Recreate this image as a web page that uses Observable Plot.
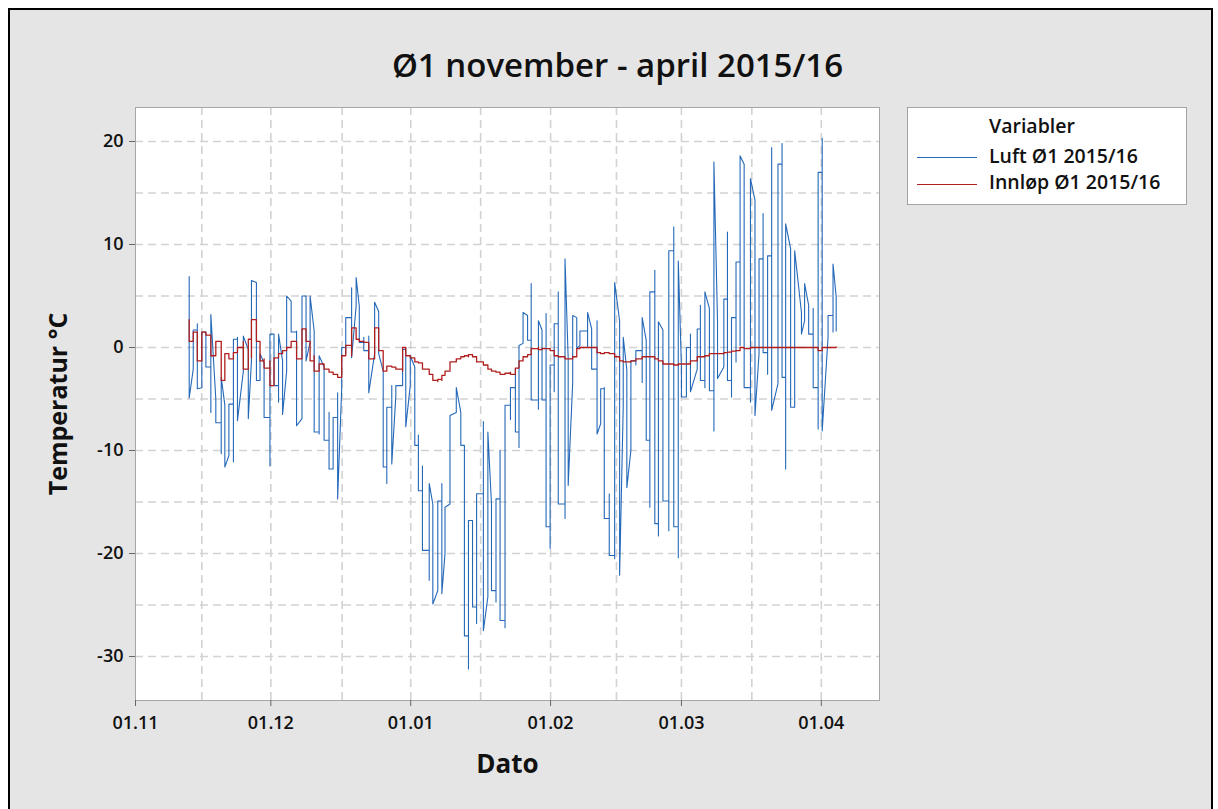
<!DOCTYPE html>
<html>
<head>
<meta charset="utf-8">
<script src="https://cdn.jsdelivr.net/npm/d3@7"></script>
<script src="https://cdn.jsdelivr.net/npm/@observablehq/plot@0.6"></script>
<style>
  body { margin: 0; background: #fff; }
  #wrap { position: relative; width: 1218px; height: 809px; overflow: hidden; background: #fff; font-family: 'Open Sans', sans-serif; }
  #panel { position: absolute; left: 8px; top: 8px; width: 1205px; height: 900px; background: #e5e5e5; border: 2px solid #000; box-sizing: border-box; }
  #chart { position: absolute; left: 0; top: 0; }
  #legend { position: absolute; left: 907px; top: 107px; width: 280px; height: 98px; background: #fff; border: 1px solid #a3a3a3; box-sizing: border-box; }
  .lg { position: absolute; left: 81px; font-size: 19.5px; font-weight: 600; line-height: 24px; color: #111; white-space: nowrap; }
  .sw { position: absolute; left: 9px; width: 60px; height: 1.4px; }
</style>
</head>
<body>
<div id="wrap">
  <div id="panel"></div>
  <div id="chart"></div>
  <div id="legend"></div>
</div>
<script>
// ---- data (days since 1 Nov 2015; temperatures in °C) ----
// Luft Ø1: for each logged day the range of the values drawn at that date
const luftDay = [11.9,12.8,13.7,14.7,15.6,16.7,17.8,19.0,19.8,20.7,
  21.7,22.6,23.9,25.0,25.7,26.8,27.6,28.5,29.8,30.7,
  31.7,32.6,33.5,34.5,35.7,36.9,37.8,38.7,39.6,40.7,
  41.8,42.9,43.8,44.8,45.7,46.6,47.9,48.9,49.6,50.6,
  51.7,53.0,53.9,54.9,55.7,56.8,57.7,59.2,59.9,60.9,
  61.9,62.7,63.6,65.1,65.9,67.0,67.9,68.6,69.7,71.1,
  72.1,72.9,73.8,74.7,75.6,77.1,78.1,78.9,79.9,80.8,
  81.9,83.1,84.2,85.0,85.9,86.9,87.7,89.3,90.1,91.0,
  91.9,92.8,93.7,95.2,95.9,96.9,97.8,98.5,100.2,101.1,
  102.3,103.1,103.9,105.0,106.2,107.3,108.1,108.9,109.8,110.9,
  112.3,113.2,114.0,115.1,115.9,116.9,118.2,119.3,120.3,121.0,
  122.1,123.0,124.5,125.2,126.2,127.2,128.2,129.0,130.4,131.2,
  132.1,133.1,134.0,134.9,136.3,137.3,138.2,139.1,140.1,141.0,
  142.4,143.3,144.1,145.2,146.1,147.6,148.3,149.2,150.2,151.3,
  152.2,153.5,154.6,155.3];
const luftLo = [-4.9,-2.1,-4.0,-3.9,-1.9,-6.3,-7.3,-10.3,-11.6,-10.5,
  -11.1,-7.1,-2.3,-6.9,-1.3,-3.2,-3.2,-6.8,-11.5,-3.7,
  -5.3,-6.5,-2.3,1.5,-7.6,-6.9,-1.3,0.5,-8.2,-8.4,
  -9.0,-11.8,-11.8,-14.7,-4.0,-0.6,-1.0,4.0,0.5,-0.3,
  -4.4,-0.6,-0.6,-11.6,-13.2,-11.3,-4.7,-3.7,-7.7,-3.7,
  -9.5,-13.9,-19.7,-22.6,-24.9,-23.6,-23.9,-20.0,-15.2,-6.3,
  -9.5,-28.0,-31.2,-25.2,-26.8,-27.5,-24.2,-23.6,-24.7,-26.5,
  -27.2,-7.0,-8.2,-9.7,0.4,0.7,-5.1,-6.0,-5.1,-17.4,
  -19.5,-4.3,-15.2,-16.6,-13.4,-3.4,-0.1,0.2,0.0,-2.1,
  -8.4,-7.4,-16.6,-20.2,-20.5,-22.1,-5.8,-13.6,-10.0,-1.7,
  -3.4,-9.0,-15.5,-17.1,-18.3,-14.9,-17.8,-17.4,-20.4,-4.8,
  -4.8,-4.3,-2.1,-3.2,-3.9,-4.2,-8.1,-3.0,-1.9,-3.2,
  -4.8,-1.4,0.2,-3.9,-5.3,-6.6,-0.6,-0.5,-2.6,-6.1,
  -3.5,-2.9,-11.8,-5.8,-5.8,1.3,2.6,1.3,-3.9,-7.9,
  -8.1,1.0,1.5,1.6];
const luftHi = [6.9,1.7,2.3,1.5,1.5,3.2,-5.0,-2.9,-5.6,-5.5,
  0.8,1.0,1.1,-0.2,6.5,6.3,-0.6,-1.5,1.3,1.3,
  1.3,-1.3,5.0,4.5,1.6,5.0,5.0,5.0,1.6,-0.8,
  -1.9,-6.3,-6.8,-4.4,0.0,2.9,5.8,6.8,4.0,1.0,
  1.1,4.4,3.5,-2.3,-5.8,-3.7,-3.7,-0.2,0.0,-0.8,
  -1.9,-8.5,-11.5,-13.2,-15.2,-14.9,-13.2,-15.5,-6.6,-3.9,
  -6.3,-9.5,-16.8,-16.8,-14.2,-7.2,-8.2,-15.2,-14.7,-10.0,
  -5.6,-3.9,-2.1,0.2,3.4,3.1,6.2,2.6,1.7,3.3,
  -1.7,2.3,5.4,8.6,-1.1,3.1,2.9,1.6,3.4,1.8,
  2.6,-4.0,-3.9,-14.2,6.3,2.6,1.0,-2.2,-1.3,-0.3,
  2.9,0.7,5.4,7.5,2.5,1.7,9.4,11.7,8.4,-1.9,
  0.0,1.3,1.8,4.1,5.4,3.8,18.0,2.5,4.7,11.2,
  2.9,8.3,18.6,17.8,16.4,14.3,8.6,13.0,8.9,19.4,
  17.8,19.8,12.0,9.6,9.4,3.4,6.2,4.1,3.8,17.0,
  20.3,3.1,8.1,4.9];

// Innløp Ø1
const innlopDay = [11.9,12.8,13.7,14.7,15.6,16.7,17.8,19.0,19.8,20.7,
  21.7,22.6,23.9,25.0,25.7,26.8,27.6,28.5,29.8,30.7,
  31.7,32.6,33.5,34.5,35.7,36.9,37.8,38.7,39.6,40.7,
  41.8,42.9,43.8,44.8,45.7,46.6,47.9,48.9,49.6,50.6,
  51.7,53.0,53.9,54.9,55.7,56.8,57.7,59.2,59.9,60.9,
  61.9,62.7,63.6,65.1,65.9,67.0,67.9,68.6,69.7,71.1,
  72.1,72.9,73.8,74.7,75.6,77.1,78.1,78.9,79.9,80.8,
  81.9,83.1,84.2,85.0,85.9,86.9,87.7,89.3,90.1,91.0,
  91.9,92.8,93.7,95.2,95.9,96.9,97.8,98.5,100.2,101.1,
  102.3,103.1,103.9,105.0,106.2,107.3,108.1,108.9,109.8,110.9,
  112.3,113.2,114.0,115.1,115.9,116.9,118.2,119.3,120.3,121.0,
  122.1,123.0,124.5,125.2,126.2,127.2,128.2,129.0,130.4,131.2,
  132.1,133.1,134.0,134.9,136.3,138.2,141.0,144.1,147.6,150.2,
  151.3,152.2,155.3];
const innlopLo = [0.6,0.8,-1.3,-0.8,1.2,-0.8,-0.3,-3.2,-2.9,-1.1,
  -1.0,-0.2,-2.1,-1.1,-1.0,0.6,-1.3,-2.0,-3.7,-1.8,
  -0.9,-0.6,-0.3,0.3,-1.1,-0.5,0.6,-1.3,-2.3,-1.9,
  -2.1,-2.4,-2.6,-2.9,-2.9,-0.8,-0.8,0.8,0.6,0.5,
  -1.1,-0.2,-0.3,-2.3,-2.1,-1.9,-2.1,-2.3,-0.8,-1.0,
  -1.4,-1.5,-2.1,-2.6,-3.2,-3.3,-3.2,-2.6,-2.1,-1.4,
  -1.1,-0.9,-0.9,-0.9,-1.4,-1.7,-2.1,-2.3,-2.4,-2.6,
  -2.6,-2.6,-2.4,-1.9,-1.3,-0.9,-0.5,-0.2,-0.1,-0.1,
  -0.3,-0.8,-0.9,-1.1,-1.1,-0.9,-0.1,0,0,0,
  -0.5,-0.6,-0.5,-0.6,-0.9,-1.3,-1.4,-1.4,-1.3,-1.1,
  -0.9,-0.9,-0.9,-1.1,-1.3,-1.6,-1.6,-1.7,-1.6,-1.6,
  -1.6,-1.3,-0.9,-0.9,-0.8,-0.6,-0.6,-0.6,-0.5,-0.45,
  -0.35,-0.3,0,-0.1,0,0,0,0,0,0,
  -0.3,0,0.05];
const innlopHi = [2.7,1.5,1.3,1.5,1.5,0.6,0.6,-0.3,-0.6,-0.8,
  -0.5,0.0,0.6,0.8,2.7,2.7,-0.5,-1.1,-1.3,-1.0,
  -0.6,-0.3,0.0,0.6,0.5,1.8,1.8,0.6,-0.8,-1.6,
  -1.9,-2.1,-2.4,-2.6,-0.8,0.2,1.9,1.6,0.8,0.6,
  0.0,1.9,-0.2,-1.3,-1.8,-1.8,-1.9,0.0,0.0,-0.8,
  -1.2,-1.4,-1.6,-2.2,-2.7,-3.1,-2.7,-2.3,-1.4,-1.1,
  -0.9,-0.8,-0.7,-0.7,-0.9,-1.5,-1.8,-2.1,-2.3,-2.5,
  -2.5,-2.4,-2.0,-1.3,-0.9,-0.7,-0.1,0.0,-0.1,-0.1,
  -0.3,-0.8,-0.9,-1.1,-1.1,-0.9,-0.1,0,0,0,
  0,-0.6,-0.5,-0.6,-0.9,-1.3,-1.4,-1.4,-1.3,-1.1,
  -0.9,-0.9,-0.9,-1.1,-1.3,-1.6,-1.6,-1.7,-1.6,-1.6,
  -1.6,-1.3,-0.9,-0.9,-0.8,-0.6,-0.6,-0.6,-0.5,-0.45,
  -0.35,-0.3,0,-0.1,0,0,0,0,0,0,
  -0.3,0,0.05];

// axes
const monthTickDays = [0, 30, 61, 92, 121, 152];          // 01.11 ... 01.04
const gridXDays = [14.7, 30, 45.8, 61, 76.5, 92, 106.6, 121, 136.6, 152];
const yTicks = [-30, -20, -10, 0, 10, 20];
const gridYVals = [-30, -25, -20, -15, -10, -5, 0, 5, 10, 15, 20];
const seriesNames = ["Luft Ø1 2015/16", "Innløp Ø1 2015/16"];
const seriesColors = ["#2468b8", "#b01e1e"];
const titleText = "Ø1 november - april 2015/16";

// ---- build ----
const x0 = Date.UTC(2015, 10, 1), DAY = 864e5;
const toDate = d => new Date(x0 + d * DAY);

// all of a day's values share one date: the line enters at the previous level
// (clamped into the day's range), runs to the nearer end, then to the far end
function dayPath(days, lo, hi) {
  const pts = [];
  let prev = null;
  for (let i = 0; i < days.length; i++) {
    const a = lo[i], b = hi[i], dt = toDate(days[i]);
    if (prev === null) {
      pts.push({date: dt, t: b}, {date: dt, t: a});
      prev = a;
      continue;
    }
    const e = Math.max(a, Math.min(b, prev));
    const near = (e - a) < (b - e) ? a : b;
    const far = near === a ? b : a;
    pts.push({date: dt, t: e}, {date: dt, t: near}, {date: dt, t: far});
    prev = far;
  }
  return pts;
}
const luftPts = dayPath(luftDay, luftLo, luftHi);
const innPts = dayPath(innlopDay, innlopLo, innlopHi);
const fmtY = d => (d < 0 ? "-" + Math.abs(d) : String(d));

const chart = Plot.plot({
  width: 1218, height: 809,
  marginLeft: 135, marginRight: 339, marginTop: 107, marginBottom: 109,
  style: {background: "transparent", fontFamily: "'Open Sans', sans-serif", fontWeight: 600, color: "#111", overflow: "visible"},
  x: {type: "utc", domain: [toDate(0), toDate(164.9)], label: null},
  y: {domain: [-34.27, 23.3], label: null},
  marks: [
    Plot.frame({fill: "#fff", stroke: null}),
    Plot.gridX(gridXDays.map(toDate), {stroke: "#d2d2d2", strokeOpacity: 1, strokeWidth: 1.6, strokeDasharray: "8,5"}),
    Plot.gridY(gridYVals, {stroke: "#d2d2d2", strokeOpacity: 1, strokeWidth: 1.6, strokeDasharray: "8,5"}),
    Plot.line(luftPts, {x: "date", y: "t", stroke: seriesColors[0], strokeWidth: 1.1}),
    Plot.line(innPts, {x: "date", y: "t", stroke: seriesColors[1], strokeWidth: 1.3, curve: "step-after"}),
    Plot.frame({stroke: "#a6a6a6"}),
    Plot.axisX(monthTickDays.map(toDate), {tickFormat: d3.utcFormat("%d.%m"), fontSize: 18, tickSize: 6, tickPadding: 10, stroke: "#666", label: null}),
    Plot.axisY(yTicks, {tickFormat: fmtY, fontSize: 18, tickSize: 6, tickPadding: 6, stroke: "#666", label: null}),
    Plot.text([titleText], {text: d => d, frameAnchor: "top", dx: 110, dy: -54, fontSize: 33, fontWeight: 600, fill: "#111"}),
    Plot.text(["Temperatur °C"], {text: d => d, frameAnchor: "left", dx: -77, rotate: -90, textAnchor: "middle", fontSize: 25, fontWeight: 700, fill: "#111"}),
    Plot.text(["Dato"], {text: d => d, frameAnchor: "bottom", dy: 72, fontSize: 26, fontWeight: 700, fill: "#111"})
  ]
});
document.getElementById("chart").appendChild(chart);

// legend
const lg = document.getElementById("legend");
const head = document.createElement("div");
head.className = "lg"; head.style.top = (18 - 12) + "px"; head.textContent = "Variabler";
lg.appendChild(head);
const rowText = [48, 74], rowLine = [49, 76];
seriesNames.forEach((name, i) => {
  const sw = document.createElement("div");
  sw.className = "sw"; sw.style.top = rowLine[i] + "px";
  sw.style.background = seriesColors[i];
  lg.appendChild(sw);
  const t = document.createElement("div");
  t.className = "lg"; t.style.top = (rowText[i] - 12) + "px"; t.textContent = name;
  lg.appendChild(t);
});
</script>
</body>
</html>
